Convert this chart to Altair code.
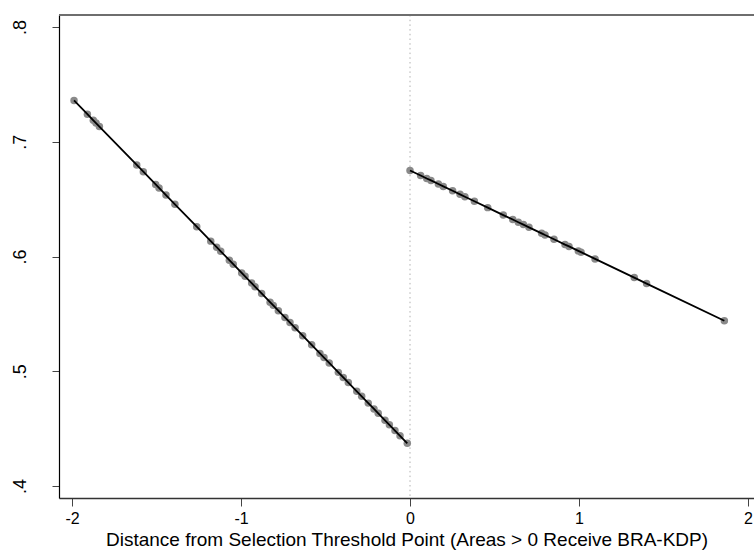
import altair as alt
import pandas as pd

# Distance from threshold (left of cutoff) and fitted share
left_x = [-1.988, -1.909, -1.874, -1.858, -1.838, -1.617, -1.578, -1.505, -1.485, -1.444,
          -1.391, -1.262, -1.179, -1.144, -1.120, -1.069, -1.046, -0.996, -0.976, -0.937,
          -0.917, -0.878, -0.828, -0.809, -0.779, -0.740, -0.710, -0.680, -0.635, -0.582,
          -0.533, -0.509, -0.478, -0.424, -0.395, -0.365, -0.315, -0.286, -0.247, -0.213,
          -0.188, -0.148, -0.122, -0.089, -0.059, -0.016]
left_y = [0.7360, 0.7240, 0.7187, 0.7163, 0.7133, 0.6798, 0.6739, 0.6628, 0.6598, 0.6536,
          0.6455, 0.6260, 0.6134, 0.6081, 0.6045, 0.5968, 0.5933, 0.5857, 0.5827, 0.5768,
          0.5737, 0.5678, 0.5602, 0.5574, 0.5528, 0.5469, 0.5424, 0.5378, 0.5310, 0.5230,
          0.5155, 0.5119, 0.5072, 0.4990, 0.4946, 0.4901, 0.4825, 0.4781, 0.4722, 0.4671,
          0.4633, 0.4572, 0.4533, 0.4483, 0.4437, 0.4372]

# Distance from threshold (right of cutoff) and fitted share
right_x = [0.000, 0.063, 0.099, 0.124, 0.168, 0.197, 0.252, 0.296, 0.325, 0.381,
           0.460, 0.552, 0.608, 0.641, 0.671, 0.704, 0.779, 0.799, 0.852, 0.917,
           0.941, 0.996, 1.012, 1.095, 1.327, 1.400, 1.860]
right_y = [0.6750, 0.6706, 0.6680, 0.6663, 0.6632, 0.6611, 0.6573, 0.6542, 0.6521, 0.6482,
           0.6426, 0.6361, 0.6322, 0.6299, 0.6278, 0.6254, 0.6202, 0.6187, 0.6150, 0.6104,
           0.6088, 0.6049, 0.6038, 0.5979, 0.5816, 0.5764, 0.5440]

x_ticks = [-2, -1, 0, 1, 2]
y_ticks = [0.4, 0.5, 0.6, 0.7, 0.8]
x_title = "Distance from Selection Threshold Point (Areas > 0 Receive BRA-KDP)"

df = pd.DataFrame({
    "dist": left_x + right_x,
    "fit": left_y + right_y,
    "side": ["left"] * len(left_x) + ["right"] * len(right_x),
})

W, H = 695, 483
FONT = "Liberation Sans"

x_enc = alt.X(
    "dist:Q",
    scale=alt.Scale(domain=[-2.077, 2.0355], nice=False, zero=False),
    axis=alt.Axis(
        values=x_ticks, title=x_title, grid=False,
        labelExpr="datum.value < 0 ? '-' + abs(datum.value) : '' + datum.value",
        labelFont=FONT, labelFontSize=16, labelColor="#000", labelPadding=4,
        titleFont=FONT, titleFontSize=19, titleFontWeight="normal", titleColor="#000",
        titlePadding=4,
        tickSize=8, tickColor="#444", tickWidth=1,
        domainColor="#333", domainWidth=1.5,
    ),
)
y_enc = alt.Y(
    "fit:Q",
    scale=alt.Scale(domain=[0.3895, 0.8105], nice=False, zero=False),
    axis=alt.Axis(
        values=y_ticks, title=None, grid=False,
        labelExpr="'.' + format(datum.value * 10, '.0f')",
        labelFont=FONT, labelFontSize=18, labelColor="#000",
        labelAngle=270, labelAlign="center", labelBaseline="bottom", labelPadding=23,
        tickSize=7, tickColor="#444", tickWidth=1,
        domainColor="#000", domainWidth=1.2,
    ),
)

points = alt.Chart(df).mark_circle(size=56, color="#8a8a8a", opacity=1).encode(
    x=x_enc, y=y_enc
)
lines = alt.Chart(df).mark_line(color="#000", strokeWidth=1.8).encode(
    x="dist:Q", y="fit:Q", detail="side:N", order="dist:Q"
)
cutoff = alt.Chart(pd.DataFrame({"c": [0]})).mark_rule(
    color="#b0b0b0", strokeDash=[1.5, 3.2], strokeWidth=1
).encode(x="c:Q")
top_border = alt.Chart(pd.DataFrame({"c": [0]})).mark_rule(
    color="#6e6e6e", strokeWidth=2
).encode(x=alt.value(0), x2=alt.value(W), y=alt.value(0))

chart = alt.layer(cutoff, points, lines, top_border).properties(
    width=W, height=H,
    autosize=alt.AutoSizeParams(type="none"),
    padding={"left": 59, "top": 15, "right": 0, "bottom": 54},
    background="white",
).configure_view(stroke=None)

chart.save("out.html", embed_options={"renderer": "svg", "actions": False})
